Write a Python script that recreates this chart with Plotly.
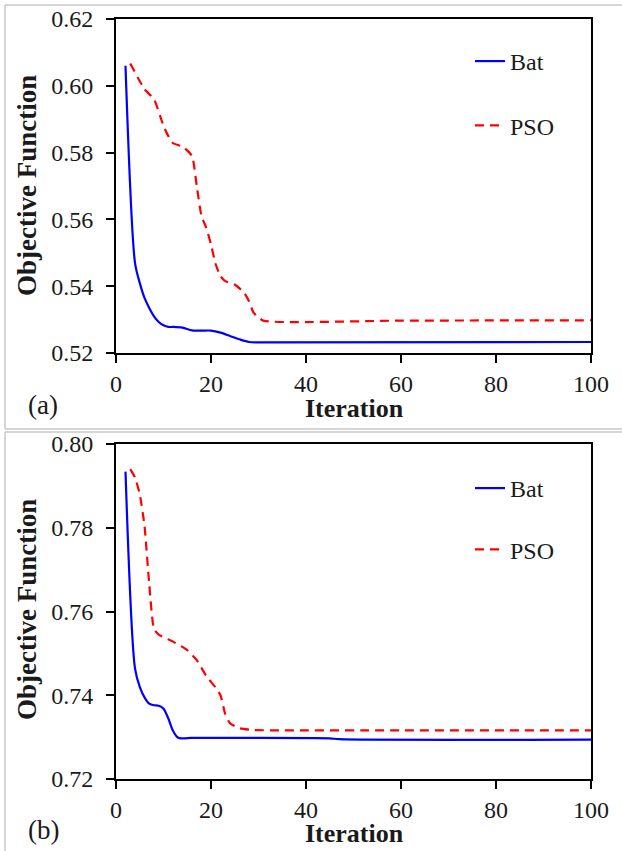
import plotly.graph_objects as go

# ---------------- data ----------------
iter_bat_a = [2, 4, 5, 6, 7, 8, 9, 10, 11, 12, 14, 16, 18, 20, 22, 24, 26, 28, 30, 100]
bat_a = [0.606, 0.547, 0.541, 0.5365, 0.5335, 0.531, 0.5293, 0.5283, 0.5278, 0.5278,
         0.5276, 0.5268, 0.5267, 0.5267, 0.5261, 0.5251, 0.5241, 0.5233, 0.5232, 0.5233]

iter_pso_a = [3, 6, 8, 10, 11, 12, 14, 16, 17, 18, 19, 20, 21, 22, 23, 25, 27, 28, 29, 31, 60, 100]
pso_a = [0.6067, 0.5990, 0.5960, 0.5880, 0.5850, 0.5828, 0.5818, 0.5790, 0.5700, 0.5610,
         0.5575, 0.5525, 0.5465, 0.5430, 0.5415, 0.5405, 0.5380, 0.5355, 0.5320, 0.5297,
         0.5297, 0.5298]

iter_bat_b = [2, 4, 5, 6, 7, 8, 9, 10, 11, 12, 13, 14, 16, 25, 45, 47, 100]
bat_b = [0.7934, 0.7464, 0.7420, 0.7395, 0.7380, 0.7376, 0.7375, 0.7368, 0.7345, 0.7315,
         0.7299, 0.7297, 0.7298, 0.7298, 0.7297, 0.7295, 0.7294]

iter_pso_b = [3, 4, 5, 6, 7, 8, 9, 12, 15, 17, 19, 21, 22, 23, 24, 26, 29, 60, 100]
pso_b = [0.7940, 0.7920, 0.7880, 0.7805, 0.7665, 0.7558, 0.7545, 0.7528, 0.7508, 0.7484,
         0.7446, 0.7418, 0.7400, 0.7355, 0.7333, 0.7321, 0.7317, 0.7316, 0.7316]

x_ticks = [0, 20, 40, 60, 80, 100]
y_ticks_a = [0.52, 0.54, 0.56, 0.58, 0.60, 0.62]
y_ticks_b = [0.72, 0.74, 0.76, 0.78, 0.80]

# ---------------- figure ----------------
W, H = 622, 851
FONT = "Liberation Serif"
BLUE = "#0000FF"
RED = "#FF0000"
TXT = "#1a1a1a"

def px(x):
    return x / W

def py(y):
    return (H - y) / H

fig = go.Figure()

fig.add_trace(go.Scatter(x=iter_bat_a, y=bat_a, mode="lines", name="Bat",
                         line=dict(color=BLUE, width=2.2, shape="spline", smoothing=0.8),
                         xaxis="x", yaxis="y", legend="legend", legendgroup="a1"))
fig.add_trace(go.Scatter(x=iter_pso_a, y=pso_a, mode="lines", name="PSO",
                         line=dict(color=RED, width=2.2, dash="9px,6px", shape="spline", smoothing=0.5),
                         xaxis="x", yaxis="y", legend="legend", legendgroup="a2"))
fig.add_trace(go.Scatter(x=iter_bat_b, y=bat_b, mode="lines", name="Bat",
                         line=dict(color=BLUE, width=2.2, shape="spline", smoothing=0.8),
                         xaxis="x2", yaxis="y2", legend="legend2", legendgroup="b1"))
fig.add_trace(go.Scatter(x=iter_pso_b, y=pso_b, mode="lines", name="PSO",
                         line=dict(color=RED, width=2.2, dash="9px,6px", shape="spline", smoothing=0.5),
                         xaxis="x2", yaxis="y2", legend="legend2", legendgroup="b2"))

tickfont = dict(family=FONT, size=24, color=TXT)
axis_common = dict(showline=True, linecolor="black", linewidth=2, mirror=True,
                   ticks="outside", ticklen=8, tickwidth=2, tickcolor="black",
                   showgrid=False, zeroline=False, tickfont=tickfont, automargin=False)

x_dom = [px(116), px(591)]
fig.update_layout(
    width=W, height=H,
    margin=dict(l=0, r=0, t=0, b=0),
    paper_bgcolor="white", plot_bgcolor="white",
    xaxis=dict(domain=x_dom, range=[0, 100], tickvals=x_ticks, anchor="y", **axis_common),
    yaxis=dict(domain=[py(353), py(19)], range=[0.52, 0.62], tickvals=y_ticks_a,
               tickformat=".2f", anchor="x", ticklabelstandoff=8, **axis_common),
    xaxis2=dict(domain=x_dom, range=[0, 100], tickvals=x_ticks, anchor="y2", **axis_common),
    yaxis2=dict(domain=[py(779), py(444)], range=[0.72, 0.80], tickvals=y_ticks_b,
                tickformat=".2f", anchor="x2", ticklabelstandoff=8, **axis_common),
    legend=dict(x=px(470), y=py(39), xanchor="left", yanchor="top",
                bgcolor="rgba(0,0,0,0)", font=dict(family=FONT, size=24, color=TXT),
                tracegroupgap=30, itemwidth=30),
    legend2=dict(x=px(470), y=py(466), xanchor="left", yanchor="top",
                 bgcolor="rgba(0,0,0,0)", font=dict(family=FONT, size=24, color=TXT),
                 tracegroupgap=27, itemwidth=30),
    showlegend=True,
)

# axis titles and panel labels
annos = [
    dict(text="<b>Objective Function</b>", x=px(27), y=py(186), textangle=-90,
         font=dict(family=FONT, size=27, color=TXT)),
    dict(text="<b>Objective Function</b>", x=px(27), y=py(610), textangle=-90,
         font=dict(family=FONT, size=27, color=TXT)),
    dict(text="<b>Iteration</b>", x=px(354), y=py(408), font=dict(family=FONT, size=26, color=TXT)),
    dict(text="<b>Iteration</b>", x=px(354), y=py(833), font=dict(family=FONT, size=26, color=TXT)),
    dict(text="(a)", x=px(43), y=py(405), font=dict(family=FONT, size=27, color=TXT)),
    dict(text="(b)", x=px(43), y=py(830), font=dict(family=FONT, size=27, color=TXT)),
]
for a in annos:
    fig.add_annotation(xref="paper", yref="paper", showarrow=False,
                       xanchor="center", yanchor="middle", **a)

# light grey panel frames
grey = dict(color="#c8c8c8", width=1.5)
for (x0, y0, x1, y1) in [(5, 5, 622, 5), (5, 429, 622, 429), (5, 5, 5, 429),
                         (5, 432, 622, 432), (5, 432, 5, 851)]:
    fig.add_shape(type="line", xref="paper", yref="paper",
                  x0=px(x0), y0=py(y0), x1=px(x1), y1=py(y1), line=grey)

fig.write_html(
    "out.html",
    config={"displayModeBar": False},
    post_script="document.body.style.margin='0';document.body.style.overflow='hidden';"
                "document.documentElement.style.overflow='hidden';",
)
